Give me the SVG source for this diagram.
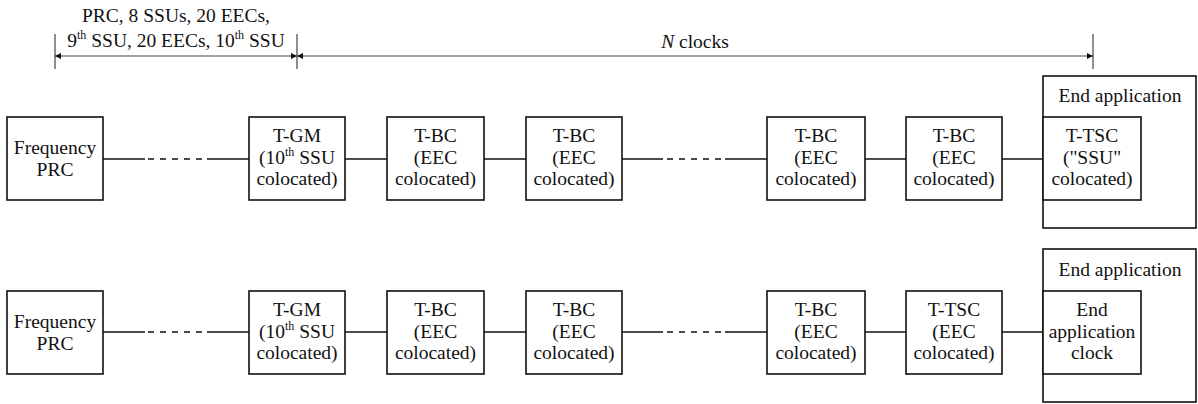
<svg xmlns="http://www.w3.org/2000/svg" width="1198" height="404" viewBox="0 0 1198 404">
  <style>
    text { font-family: 'Liberation Serif', 'DejaVu Serif', serif; font-size: 19.5px; fill: #111; text-anchor: middle; }
    .sup { font-size: 12px; }
    .box { fill: #fff; stroke: #111; stroke-width: 1.6; }
    .link { stroke: #111; stroke-width: 1.4; fill: none; }
    .dash { stroke: #111; stroke-width: 1.4; fill: none; stroke-dasharray: 6 6; }
    .dim { stroke: #444; stroke-width: 1.2; fill: none; }
  </style>
  <defs>
    <marker id="arr" viewBox="0 0 10 10" refX="10" refY="5" markerWidth="8" markerHeight="6" markerUnits="userSpaceOnUse" orient="auto">
      <path d="M0,0 L10,5 L0,10 Z" fill="#111"/>
    </marker>
    <marker id="arrStart" viewBox="0 0 10 10" refX="0" refY="5" markerWidth="8" markerHeight="6" markerUnits="userSpaceOnUse" orient="auto">
      <path d="M10,0 L0,5 L10,10 Z" fill="#111"/>
    </marker>
  </defs>

  <g font-family="Liberation Serif, DejaVu Serif, serif">
  <!-- Dimension annotations -->
  <g id="dimensions">
    <line class="dim" x1="55" y1="34" x2="55" y2="69"/>
    <line class="dim" x1="297" y1="34" x2="297" y2="69"/>
    <line class="dim" x1="1093" y1="34" x2="1093" y2="69"/>
    <line class="dim" x1="55" y1="56" x2="297" y2="56" marker-start="url(#arrStart)" marker-end="url(#arr)"/>
    <line class="dim" x1="297" y1="56" x2="1093" y2="56" marker-start="url(#arrStart)" marker-end="url(#arr)"/>
    <text x="176" y="22">PRC, 8 SSUs, 20 EECs,</text>
    <text x="176" y="47">9<tspan class="sup" dy="-8">th</tspan><tspan dy="8"> SSU, 20 EECs, 10</tspan><tspan class="sup" dy="-8">th</tspan><tspan dy="8"> SSU</tspan></text>
    <text x="695" y="48"><tspan font-style="italic">N</tspan> clocks</text>
  </g>

  <!-- Connectors -->
  <g id="connectors">
    <!-- upper chain -->
    <line class="link" x1="103" y1="159" x2="145" y2="159"/>
    <line class="dash" x1="148" y1="159" x2="202" y2="159"/>
    <line class="link" x1="207" y1="159" x2="249" y2="159"/>
    <line class="link" x1="345" y1="159" x2="387" y2="159"/>
    <line class="link" x1="484" y1="159" x2="526" y2="159"/>
    <line class="link" x1="622" y1="159" x2="663" y2="159"/>
    <line class="dash" x1="667" y1="159" x2="721" y2="159"/>
    <line class="link" x1="725" y1="159" x2="767" y2="159"/>
    <line class="link" x1="865" y1="159" x2="906" y2="159"/>
    <line class="link" x1="1002" y1="159" x2="1043" y2="159"/>
    <!-- lower chain -->
    <line class="link" x1="103" y1="332" x2="145" y2="332"/>
    <line class="dash" x1="148" y1="332" x2="202" y2="332"/>
    <line class="link" x1="207" y1="332" x2="249" y2="332"/>
    <line class="link" x1="345" y1="332" x2="387" y2="332"/>
    <line class="link" x1="484" y1="332" x2="526" y2="332"/>
    <line class="link" x1="622" y1="332" x2="663" y2="332"/>
    <line class="dash" x1="667" y1="332" x2="721" y2="332"/>
    <line class="link" x1="725" y1="332" x2="767" y2="332"/>
    <line class="link" x1="865" y1="332" x2="906" y2="332"/>
    <line class="link" x1="1002" y1="332" x2="1043" y2="332"/>
  </g>

  <!-- Upper chain nodes -->
  <g id="prc1">
    <rect class="box" x="7" y="117" width="96" height="83"/>
    <text x="55" y="154">Frequency</text>
    <text x="55" y="176">PRC</text>
  </g>
  <g id="tgm1">
    <rect class="box" x="249" y="117" width="96" height="83"/>
    <text x="297" y="142">T-GM</text>
    <text x="297" y="164">(10<tspan class="sup" dy="-8">th</tspan><tspan dy="8"> SSU</tspan></text>
    <text x="297" y="185">colocated)</text>
  </g>
  <g id="tbc1a">
    <rect class="box" x="387" y="117" width="97" height="83"/>
    <text x="435.5" y="142">T-BC</text>
    <text x="435.5" y="164">(EEC</text>
    <text x="435.5" y="185">colocated)</text>
  </g>
  <g id="tbc1b">
    <rect class="box" x="526" y="117" width="96" height="83"/>
    <text x="574" y="142">T-BC</text>
    <text x="574" y="164">(EEC</text>
    <text x="574" y="185">colocated)</text>
  </g>
  <g id="tbc1c">
    <rect class="box" x="767" y="117" width="98" height="83"/>
    <text x="816" y="142">T-BC</text>
    <text x="816" y="164">(EEC</text>
    <text x="816" y="185">colocated)</text>
  </g>
  <g id="tbc1d">
    <rect class="box" x="906" y="117" width="96" height="83"/>
    <text x="954" y="142">T-BC</text>
    <text x="954" y="164">(EEC</text>
    <text x="954" y="185">colocated)</text>
  </g>
  <g id="endapp1">
    <rect class="box" x="1043" y="76" width="153" height="152"/>
    <text x="1120" y="102">End application</text>
  </g>
  <g id="ttsc1">
    <rect class="box" x="1043" y="117" width="98" height="83"/>
    <text x="1092" y="142">T-TSC</text>
    <text x="1092" y="164">("SSU"</text>
    <text x="1092" y="185">colocated)</text>
  </g>

  <!-- Lower chain nodes -->
  <g id="prc2">
    <rect class="box" x="7" y="291" width="96" height="83"/>
    <text x="55" y="328">Frequency</text>
    <text x="55" y="350">PRC</text>
  </g>
  <g id="tgm2">
    <rect class="box" x="249" y="291" width="96" height="83"/>
    <text x="297" y="316">T-GM</text>
    <text x="297" y="338">(10<tspan class="sup" dy="-8">th</tspan><tspan dy="8"> SSU</tspan></text>
    <text x="297" y="359">colocated)</text>
  </g>
  <g id="tbc2a">
    <rect class="box" x="387" y="291" width="97" height="83"/>
    <text x="435.5" y="316">T-BC</text>
    <text x="435.5" y="338">(EEC</text>
    <text x="435.5" y="359">colocated)</text>
  </g>
  <g id="tbc2b">
    <rect class="box" x="526" y="291" width="96" height="83"/>
    <text x="574" y="316">T-BC</text>
    <text x="574" y="338">(EEC</text>
    <text x="574" y="359">colocated)</text>
  </g>
  <g id="tbc2c">
    <rect class="box" x="767" y="291" width="98" height="83"/>
    <text x="816" y="316">T-BC</text>
    <text x="816" y="338">(EEC</text>
    <text x="816" y="359">colocated)</text>
  </g>
  <g id="ttsc2">
    <rect class="box" x="906" y="291" width="96" height="83"/>
    <text x="954" y="316">T-TSC</text>
    <text x="954" y="338">(EEC</text>
    <text x="954" y="359">colocated)</text>
  </g>
  <g id="endapp2">
    <rect class="box" x="1043" y="249" width="153" height="153"/>
    <text x="1120" y="276">End application</text>
  </g>
  <g id="eaclock2">
    <rect class="box" x="1043" y="291" width="98" height="83"/>
    <text x="1092" y="316">End</text>
    <text x="1092" y="338">application</text>
    <text x="1092" y="359">clock</text>
  </g>
  </g>
</svg>
